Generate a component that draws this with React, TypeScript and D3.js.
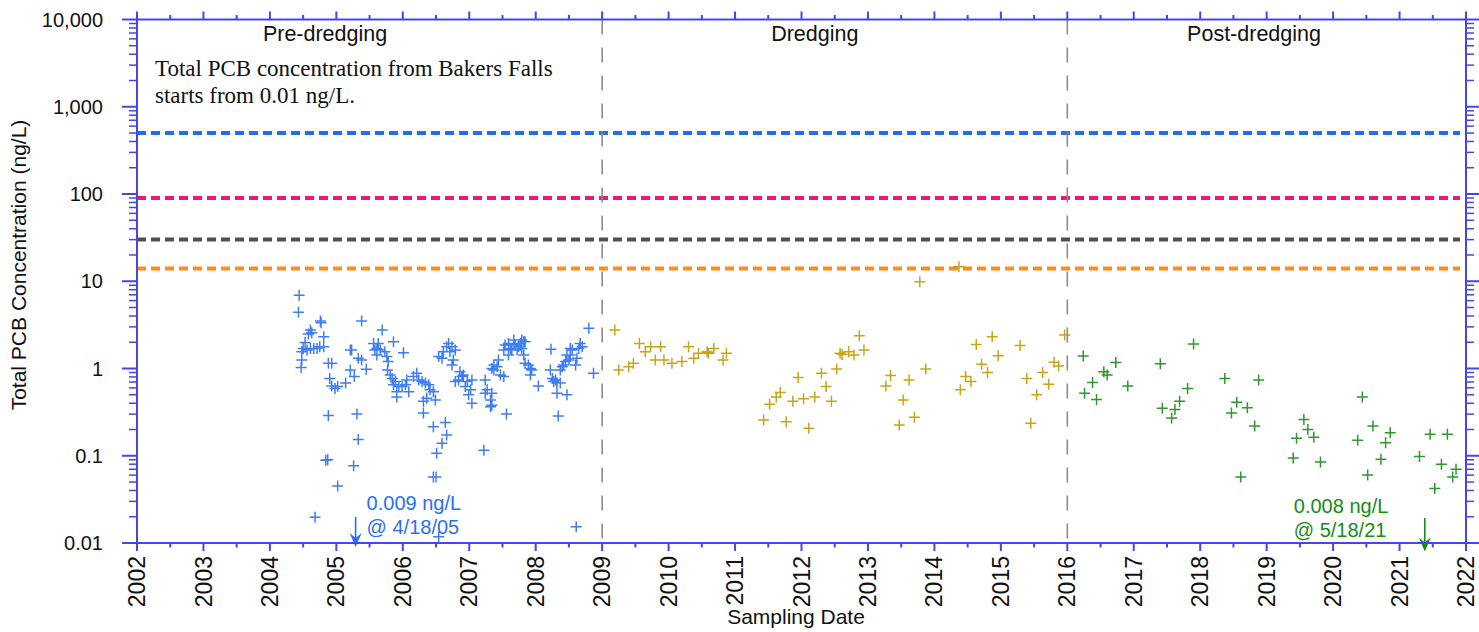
import React from 'react';
import * as d3 from 'd3';

// Total PCB concentration, samples by decimal year and ng/L
const preDredging: [number, number][] = [
  [2004.44, 6.9], [2004.43, 4.4], [2004.76, 3.5], [2004.77, 3.35], [2004.61, 2.76], [2004.63, 2.57],
  [2004.58, 2.49], [2004.81, 2.31], [2004.53, 1.98], [2004.5, 1.7], [2004.56, 1.63], [2004.61, 1.7],
  [2004.66, 1.7], [2004.71, 1.7], [2004.75, 1.78], [2004.81, 1.78], [2004.48, 1.56], [2004.48, 1.25],
  [2004.47, 1.03], [2004.88, 1.15], [2004.93, 1.15], [2004.9, 0.77], [2004.93, 0.63], [2004.98, 0.59],
  [2005.02, 0.62], [2005.14, 0.68], [2005.21, 0.96], [2005.27, 0.81], [2005.21, 1.63], [2005.23, 1.63],
  [2005.38, 3.5], [2005.33, 1.31], [2005.38, 1.25], [2005.45, 0.98], [2005.56, 1.94], [2005.58, 1.63],
  [2004.88, 0.29], [2005.31, 0.3], [2005.33, 0.154], [2005.26, 0.077], [2004.84, 0.089], [2004.87, 0.09],
  [2005.02, 0.045], [2004.68, 0.0197],
  [2005.69, 2.76], [2005.86, 2.03], [2006.01, 1.52], [2005.63, 1.94], [2005.61, 1.7], [2005.66, 1.63],
  [2005.73, 1.56], [2005.76, 1.37], [2005.61, 1.43], [2005.78, 1.2], [2005.77, 0.96], [2005.81, 0.84],
  [2005.84, 0.77], [2005.89, 0.71], [2005.86, 0.65], [2005.94, 0.62], [2005.91, 0.54], [2005.91, 0.47],
  [2005.99, 0.62], [2006.04, 0.65], [2006.06, 0.74], [2006.09, 0.54], [2006.16, 0.81], [2006.21, 0.88],
  [2006.24, 0.74], [2006.29, 0.71], [2006.34, 0.68], [2006.39, 0.65], [2006.41, 0.57], [2006.46, 0.54],
  [2006.36, 0.455], [2006.31, 0.42], [2006.49, 0.435], [2006.31, 0.31], [2006.46, 0.215], [2006.64, 0.24],
  [2006.66, 0.173], [2006.59, 0.139], [2006.51, 0.107], [2006.46, 0.057], [2006.5, 0.057], [2006.54, 0.0118],
  [2006.54, 1.37], [2006.59, 1.31], [2006.61, 1.56], [2006.66, 1.78], [2006.69, 1.94], [2006.74, 1.78],
  [2006.71, 1.56], [2006.79, 1.63], [2006.76, 1.25], [2006.74, 1.1], [2006.86, 0.92], [2006.89, 0.81],
  [2006.84, 0.74], [2006.91, 0.84], [2006.79, 0.71], [2006.97, 0.71], [2006.94, 0.62], [2007.02, 0.57],
  [2007.04, 0.74], [2006.99, 0.5], [2007.04, 0.4], [2007.22, 0.116], [2007.24, 0.74], [2007.27, 0.57],
  [2007.24, 0.52], [2007.32, 0.435], [2007.32, 0.365], [2007.34, 1.0], [2007.37, 1.1],
  [2007.37, 0.96], [2007.42, 1.05], [2007.44, 1.25], [2007.47, 0.84], [2007.52, 0.81], [2007.34, 0.52],
  [2007.34, 0.38], [2007.56, 0.3], [2007.52, 1.63], [2007.54, 1.86], [2007.59, 1.94], [2007.62, 1.7],
  [2007.59, 1.43], [2007.67, 2.12], [2007.69, 1.86], [2007.72, 1.63], [2007.74, 1.78], [2007.77, 1.94],
  [2007.79, 2.12], [2007.82, 2.03], [2007.84, 2.03], [2007.79, 1.7], [2007.64, 1.63], [2007.82, 1.43],
  [2007.84, 1.15], [2007.89, 1.1], [2007.92, 1.0], [2007.92, 0.84], [2007.94, 0.96], [2008.04, 0.63],
  [2008.23, 1.66], [2008.22, 0.96], [2008.25, 0.77], [2008.3, 0.74], [2008.32, 0.68], [2008.27, 0.71],
  [2008.32, 0.52], [2008.37, 0.68], [2008.47, 0.5], [2008.34, 0.285], [2008.37, 0.96], [2008.4, 1.05],
  [2008.42, 1.1], [2008.45, 1.2], [2008.5, 1.25], [2008.47, 1.43], [2008.52, 1.7], [2008.55, 1.63],
  [2008.52, 1.43], [2008.62, 1.31], [2008.65, 1.7], [2008.67, 1.94], [2008.7, 1.78], [2008.6, 1.1],
  [2008.8, 2.89], [2008.87, 0.88], [2008.61, 0.0154],
];

const dredging: [number, number][] = [
  [2009.19, 2.76], [2009.25, 0.96], [2009.4, 1.05], [2009.47, 1.15], [2009.56, 1.94], [2009.65, 1.56],
  [2009.73, 1.78], [2009.88, 1.78], [2009.8, 1.25], [2009.93, 1.25], [2010.05, 1.15], [2010.2, 1.2],
  [2010.3, 1.78], [2010.38, 1.31], [2010.45, 1.5], [2010.58, 1.56], [2010.68, 1.7], [2010.6, 1.5],
  [2010.82, 1.25], [2010.87, 1.5], [2011.43, 0.257], [2011.52, 0.39], [2011.62, 0.47], [2011.68, 0.53],
  [2011.77, 0.245], [2011.87, 0.42], [2011.95, 0.79], [2012.03, 0.45], [2012.11, 0.206], [2012.2, 0.47],
  [2012.3, 0.88], [2012.37, 0.62], [2012.45, 0.42], [2012.53, 0.99], [2012.58, 1.5], [2012.87, 2.38],
  [2012.61, 1.45], [2012.71, 1.56], [2012.79, 1.43], [2012.94, 1.63], [2013.34, 0.83], [2013.27, 0.63],
  [2013.62, 0.74], [2013.53, 0.435], [2013.47, 0.225], [2013.7, 0.276], [2013.87, 0.99], [2013.78, 9.9],
  [2014.37, 14.7], [2014.47, 0.81], [2014.55, 0.71], [2014.39, 0.57], [2014.63, 1.89], [2014.71, 1.12],
  [2014.8, 0.9], [2014.87, 2.31], [2014.96, 1.4], [2015.29, 1.83], [2015.39, 0.77], [2015.45, 0.235],
  [2015.54, 0.5], [2015.63, 0.9], [2015.72, 0.66], [2015.8, 1.18], [2015.87, 1.07], [2015.96, 2.42],
];

const postDredging: [number, number][] = [
  [2016.24, 1.39], [2016.38, 0.69], [2016.26, 0.52], [2016.44, 0.44], [2016.55, 0.92], [2016.6, 0.84],
  [2016.73, 1.17], [2016.91, 0.63], [2017.4, 1.13], [2017.43, 0.35], [2017.62, 0.34], [2017.57, 0.27],
  [2017.69, 0.42], [2017.81, 0.59], [2017.9, 1.91], [2018.37, 0.77], [2018.47, 0.31], [2018.55, 0.41],
  [2018.71, 0.355], [2018.82, 0.219], [2018.88, 0.74], [2018.61, 0.057], [2019.4, 0.094], [2019.45, 0.159],
  [2019.56, 0.26], [2019.62, 0.2], [2019.71, 0.163], [2019.81, 0.085], [2020.37, 0.151], [2020.44, 0.47],
  [2020.52, 0.06], [2020.6, 0.219], [2020.72, 0.091], [2020.79, 0.141], [2020.86, 0.183], [2021.3, 0.098],
  [2021.46, 0.176], [2021.53, 0.042], [2021.63, 0.08], [2021.72, 0.176], [2021.8, 0.057], [2021.85, 0.07],
];

const yearTicks = d3.range(2002, 2023);
const yMajorTicks = [0.01, 0.1, 1, 10, 100, 1000, 10000];
const yTickLabels = ['0.01', '0.1', '1', '10', '100', '1,000', '10,000'];

const thresholdValues = [500, 90, 30, 14];
const phaseBreaks = [2009, 2016];
const phaseNames = ['Pre-dredging', 'Dredging', 'Post-dredging'];

// Off-scale minima shown with an arrow below the axis
const minimumDates = [2005.29, 2021.38];
const minimumValues = [0.009, 0.008];
const minimumValueLabels = ['0.009 ng/L', '0.008 ng/L'];
const minimumDateLabels = ['@ 4/18/05', '@ 5/18/21'];

const W = 1479;
const H = 632;
const left = 137;
const right = 1466;
const top = 19.5;
const bottom = 543;

const AXIS = '#4646e6';
const SANS = '"Liberation Sans", Arial, sans-serif';
const SERIF = '"Liberation Serif", "Times New Roman", serif';
const thresholdColors = ['#1f6ff5', '#ee1580', '#505050', '#ff8c1a'];
const seriesColors = ['#2a6ff2', '#c29a00', '#178c17'];
const minimumColors = ['#2a6ff2', '#178c17'];
const phaseLabelYears = [2004.83, 2012.2, 2018.81];
const minimumTextDx = [11, -131];
const minimumTextY = [[510, 534], [513, 537]];
const CROSS = 5.5;

export default function App() {
  const x = d3.scaleLinear().domain([2002, 2022]).range([left, right]);
  const y = d3.scaleLog().domain([0.01, 10000]).range([bottom, top]);

  const minorY: number[] = [];
  for (let e = -2; e < 4; e++) {
    for (let k = 2; k <= 9; k++) minorY.push(k * Math.pow(10, e));
  }
  const halfYears = d3.range(2002.5, 2022, 1);

  const cross = (d: [number, number]) => {
    const cx = x(d[0]);
    const cy = y(d[1]);
    return `M${cx - CROSS},${cy}H${cx + CROSS}M${cx},${cy - CROSS}V${cy + CROSS}`;
  };

  const series = [preDredging, dredging, postDredging];

  return (
    <svg width={W} height={H} style={{ position: 'absolute', left: 0, top: 0, background: '#fff' }}>
      {/* threshold lines */}
      {thresholdValues.map((v, i) => (
        <line key={'t' + i} x1={left} x2={right - 6} y1={y(v)} y2={y(v)}
          stroke={thresholdColors[i]} strokeWidth={4} strokeDasharray="9,5" />
      ))}

      {/* phase separators */}
      {phaseBreaks.map((b) => (
        <line key={'b' + b} x1={x(b)} x2={x(b)} y1={top} y2={bottom}
          stroke="#8c8c8c" strokeWidth={1.6} strokeDasharray="15,13" />
      ))}

      {phaseNames.map((n, i) => (
        <text key={n} x={x(phaseLabelYears[i])} y={41} textAnchor="middle"
          fontFamily={SANS} fontSize={21.5} fill="#111">{n}</text>
      ))}

      <text x={155} y={76} fontFamily={SERIF} fontSize={23} fill="#111">
        Total PCB concentration from Bakers Falls
      </text>
      <text x={155} y={103} fontFamily={SERIF} fontSize={23} fill="#111">
        starts from 0.01 ng/L.
      </text>

      {/* samples */}
      {series.map((s, si) => (
        <path key={'s' + si} d={s.map(cross).join('')} stroke={seriesColors[si]}
          strokeWidth={1.5} fill="none" opacity={0.9} />
      ))}

      {/* minima annotations */}
      {minimumDates.map((dt, i) => {
        const ax = x(dt);
        const tip = y(minimumValues[i]);
        const start = 517 + i;
        return (
          <g key={'m' + i} fill={minimumColors[i]}>
            <line x1={ax} x2={ax} y1={start} y2={tip - 6} stroke={minimumColors[i]} strokeWidth={1.6} />
            <path d={`M${ax},${tip}L${ax - 6},${tip - 14}L${ax},${tip - 9}L${ax + 6},${tip - 14}Z`} />
            <text x={ax + minimumTextDx[i]} y={minimumTextY[i][0]} fontFamily={SANS} fontSize={20}>
              {minimumValueLabels[i]}
            </text>
            <text x={ax + minimumTextDx[i]} y={minimumTextY[i][1]} fontFamily={SANS} fontSize={20}>
              {minimumDateLabels[i]}
            </text>
          </g>
        );
      })}

      {/* frame */}
      <g stroke={AXIS} strokeWidth={2} fill="none">
        <line x1={left} x2={right} y1={top} y2={top} />
        <line x1={left} x2={right} y1={bottom} y2={bottom} />
        <line x1={left} x2={left} y1={top} y2={bottom} />
        <line x1={right} x2={right} y1={top} y2={bottom} />
        {yearTicks.map((t) => (
          <g key={'yt' + t}>
            <line x1={x(t)} x2={x(t)} y1={bottom} y2={bottom + 8} />
            <line x1={x(t)} x2={x(t)} y1={top} y2={top - 8} />
          </g>
        ))}
        {halfYears.map((t) => (
          <g key={'hy' + t}>
            <line x1={x(t)} x2={x(t)} y1={bottom} y2={bottom + 4.5} />
            <line x1={x(t)} x2={x(t)} y1={top} y2={top - 4.5} />
          </g>
        ))}
        {yMajorTicks.map((t) => (
          <g key={'ym' + t}>
            <line x1={left - 15} x2={left} y1={y(t)} y2={y(t)} />
            <line x1={right} x2={right + 14} y1={y(t)} y2={y(t)} />
          </g>
        ))}
        {minorY.map((t) => (
          <g key={'yn' + t} strokeWidth={1.5}>
            <line x1={left - 8} x2={left} y1={y(t)} y2={y(t)} />
            <line x1={right} x2={right + 8} y1={y(t)} y2={y(t)} />
          </g>
        ))}
      </g>

      {/* tick labels */}
      {yMajorTicks.map((t, i) => (
        <text key={'yl' + t} x={103} y={y(t)} dy="0.35em" textAnchor="end"
          fontFamily={SANS} fontSize={20} fill="#111">{yTickLabels[i]}</text>
      ))}
      {yearTicks.map((t) => (
        <text key={'xl' + t} transform={`translate(${x(t)},556) rotate(-90)`} dy="0.35em"
          textAnchor="end" fontFamily={SANS} fontSize={23} fill="#111">{t}</text>
      ))}

      <text x={796} y={624} textAnchor="middle" fontFamily={SANS} fontSize={21} fill="#111">
        Sampling Date
      </text>
      <text transform="translate(26,265) rotate(-90)" textAnchor="middle"
        fontFamily={SANS} fontSize={21} fill="#111">
        Total PCB Concentration (ng/L)
      </text>
    </svg>
  );
}
